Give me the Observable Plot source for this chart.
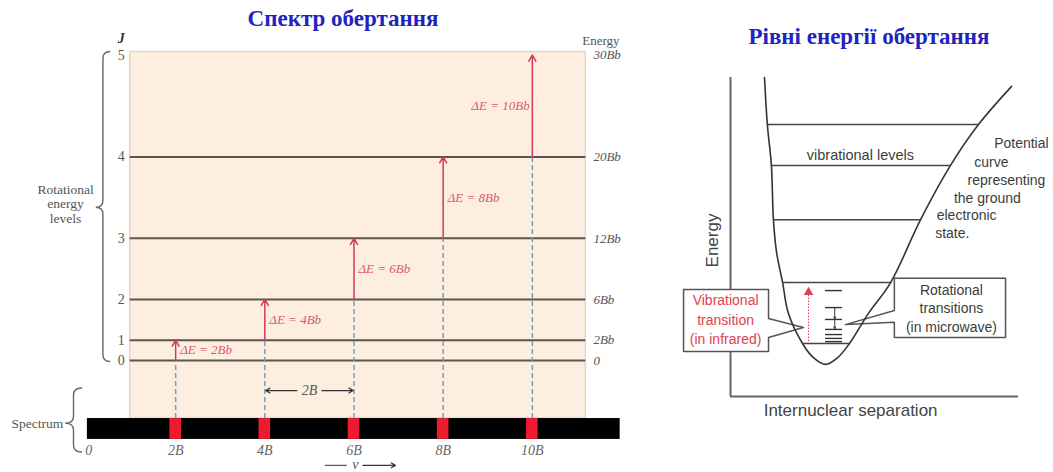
<!DOCTYPE html>
<html><head><meta charset="utf-8">
<script src="https://cdn.jsdelivr.net/npm/d3@7"></script>
<script src="https://cdn.jsdelivr.net/npm/@observablehq/plot@0.6"></script>
<style>
html,body{margin:0;padding:0;background:#fff;}
#wrap{position:relative;width:1053px;height:472px;overflow:hidden;background:#fff;}
.title{position:absolute;font-family:"Liberation Serif",serif;font-weight:bold;font-size:23px;color:#2222c0;white-space:nowrap;transform:translateX(-50%);line-height:26px;}
#wrap svg{position:absolute;top:0;}
</style></head><body>
<div id="wrap">
<div class="title" style="left:343px;top:6px">Спектр обертання</div>
<div class="title" style="left:869px;top:24px">Рівні енергії обертання</div>
</div>
<script>
// ---------- Left panel data: rotational levels and spectrum ----------
const J = [0, 1, 2, 3, 4, 5];
const levelEnergy = [0, 2, 6, 12, 20, 30];               // in units of Bb
const energyLabels = ["0", "2Bb", "6Bb", "12Bb", "20Bb", "30Bb"];
const lineFreq = [2, 4, 6, 8, 10];                         // in units of B
const deltaLabels = ["ΔE = 2Bb", "ΔE = 4Bb", "ΔE = 6Bb", "ΔE = 8Bb", "ΔE = 10Bb"];
const freqTicks = [0, 2, 4, 6, 8, 10];
const freqTickLabels = ["0", "2B", "4B", "6B", "8B", "10B"];

// ---------- Right panel data: potential curve ----------
const curveR = [1.18,1.28,1.42,1.49,1.60,1.81,2.01,2.50,2.88,3.30,3.72,4.13,4.79,5.56,6.60,7.64,8.61,9.76];
const curveE = [9.94,8.47,7.20,5.51,4.49,3.55,2.59,1.65,1.21,1.00,1.21,1.65,2.59,3.55,5.51,7.20,8.47,9.66];
const vibE  = [1.65, 3.55, 5.51, 7.20, 8.47];
const vibR1 = [2.50, 1.81, 1.49, 1.42, 1.28];
const vibR2 = [4.13, 5.56, 6.60, 7.64, 8.61];
const rotE  = [1.71, 1.81, 1.93, 2.09, 2.40, 2.77, 3.30];

// ---------- derived tables ----------
const levels = J.map((j, i) => ({J: j, E: levelEnergy[i], label: energyLabels[i]}));
const transitions = lineFreq.map((v, i) => ({v, lo: levelEnergy[i], hi: levelEnergy[i + 1], label: deltaLabels[i]}));
const ticks = freqTicks.map((v, i) => ({v, label: freqTickLabels[i]}));
const curve = curveR.map((r, i) => ({r, E: curveE[i]}));
const vib = vibE.map((E, i) => ({E, r1: vibR1[i], r2: vibR2[i]}));

// layout extents (data units)
const panel = {v1: 0.98, v2: 11.2, top: 30.3, bottom: -5.7};
const bar = {v1: 0.02, v2: 11.97, top: -5.7, bottom: -7.75};

const serif = "Liberation Serif, serif";
const sans = "Liberation Sans, Arial, sans-serif";

function braceMark(braces, color) {
  return (index, scales) => {
    const g = d3.create("svg:g").attr("fill", "none").attr("stroke", color).attr("stroke-width", 1.4);
    for (const b of braces) {
      const xt = scales.x(b.tip), xe = scales.x(b.end), xs = (xt + xe) / 2;
      const y0 = scales.y(b.top), y1 = scales.y(b.bottom), ym = scales.y(b.mid);
      const r = Math.min(7, Math.abs(xe - xt));
      g.append("path").attr("d",
        `M${xe},${y0} Q${xs},${y0} ${xs},${y0 + r} L${xs},${ym - r} Q${xs},${ym} ${xt},${ym} ` +
        `Q${xs},${ym} ${xs},${ym + r} L${xs},${y1 - r} Q${xs},${y1} ${xe},${y1}`);
    }
    return g.node();
  };
}

const left = Plot.plot({
  width: 660, height: 472,
  x: {domain: [0, 12], range: [86, 621], axis: null},
  y: {domain: [-11, 35.36], range: [472, 0], axis: null},
  style: {background: "transparent", overflow: "visible"},
  marks: [
    Plot.rect([panel], {x1: "v1", x2: "v2", y1: "bottom", y2: "top", fill: "#fdeee0", stroke: "#e6d6c4", strokeWidth: 1.5}),
    Plot.ruleY(levels.filter(d => d.J < 5), {y: "E", x1: panel.v1, x2: panel.v2, stroke: "#5a564e", strokeWidth: 2}),
    Plot.ruleX(transitions, {x: "v", y1: panel.bottom, y2: "lo", stroke: "#6aa2cc", strokeWidth: 1.5, strokeDasharray: "5,3"}),
    Plot.arrow(transitions, {x1: "v", x2: "v", y1: "lo", y2: "hi", stroke: "#d4385a", strokeWidth: 1.5, headLength: 7}),
    Plot.text(transitions.slice(0, 4), {x: d => d.v + 0.1, y: d => (d.lo + d.hi) / 2, text: "label", textAnchor: "start",
      fill: "#d85a74", fontFamily: serif, fontStyle: "italic", fontSize: 13}),
    Plot.text(transitions.slice(4), {x: d => d.v - 0.06, y: d => (d.lo + d.hi) / 2, text: "label", textAnchor: "end",
      fill: "#d85a74", fontFamily: serif, fontStyle: "italic", fontSize: 13}),
    // spectrum bar
    Plot.rect([bar], {x1: "v1", x2: "v2", y1: "bottom", y2: "top", fill: "#000"}),
    Plot.rect(transitions, {x1: d => d.v - 0.13, x2: d => d.v + 0.13, y1: bar.bottom, y2: bar.top, fill: "#ee1a30"}),
    Plot.text(ticks, {x: d => d.v === 0 ? 0.05 : d.v, y: -8.85, text: "label", fill: "#666", fontFamily: serif, fontStyle: "italic", fontSize: 14}),
    // J labels and energy labels
    Plot.text(levels, {x: 0.86, y: "E", text: d => String(d.J), textAnchor: "end", fill: "#555", fontFamily: serif, fontSize: 14}),
    Plot.text(["J"], {x: 0.78, y: 31.6, text: d => d, fill: "#333", fontFamily: serif, fontStyle: "italic", fontWeight: "bold", fontSize: 14}),
    Plot.text(levels, {x: 11.37, y: "E", text: "label", textAnchor: "start", fill: "#555", fontFamily: serif, fontStyle: "italic", fontSize: 13}),
    Plot.text(["Energy"], {x: 11.12, y: 31.4, text: d => d, textAnchor: "start", fill: "#555", fontFamily: serif, fontSize: 13}),
    // 2B spacing marker
    Plot.arrow([{a: 4.72, b: 4.02}, {a: 5.28, b: 5.98}], {x1: "a", x2: "b", y1: -2.95, y2: -2.95, stroke: "#333", strokeWidth: 1.2, headLength: 6}),
    Plot.text(["2B"], {x: 5, y: -2.95, text: d => d, fill: "#555", fontFamily: serif, fontStyle: "italic", fontSize: 14}),
    // nu axis marker
    Plot.ruleY([-10.3], {x1: 5.36, x2: 5.85, stroke: "#555", strokeWidth: 1.2}),
    Plot.arrow([{a: 6.2, b: 6.93}], {x1: "a", x2: "b", y1: -10.3, y2: -10.3, stroke: "#333", strokeWidth: 1.2, headLength: 6}),
    Plot.text(["ν"], {x: 6.03, y: -10.2, text: d => d, fill: "#555", fontFamily: serif, fontStyle: "italic", fontSize: 14}),
    // side labels and braces
    Plot.text(["Rotational\nenergy\nlevels"], {x: -0.47, y: 15.4, text: d => d, fill: "#555", fontFamily: serif, fontSize: 13.5, lineHeight: 1.1}),
    Plot.text(["Spectrum"], {x: -0.52, y: -6.2, text: d => d, textAnchor: "end", fill: "#555", fontFamily: serif, fontSize: 13.5}),
    braceMark([
      {tip: 0.22, end: 0.54, top: 30.3, bottom: -0.15, mid: 15.0},
      {tip: -0.47, end: -0.09, top: -2.75, bottom: -9.04, mid: -6.2}
    ], "#666")
  ]
});
left.style.left = "0px";

const vibBox = [[-1.63,3.33],[1.32,3.33],[1.32,2.43],[2.53,2.15],[1.32,1.84],[1.32,1.40],[-1.63,1.40],[-1.63,3.33]];
const rotBox = [[5.69,3.68],[9.55,3.68],[9.55,1.84],[5.69,1.84],[5.69,2.31],[3.99,2.24],[5.69,2.68],[5.69,3.68]];

const right = Plot.plot({
  width: 393, height: 472,
  x: {domain: [0, 10], range: [70, 358], axis: null},
  y: {domain: [0, 10], range: [396, 75], axis: null},
  style: {background: "transparent", overflow: "visible"},
  marks: [
    Plot.ruleX([0], {y1: 0, y2: 9.94, stroke: "#666", strokeWidth: 2}),
    Plot.ruleY([0], {x1: 0, x2: 10, stroke: "#666", strokeWidth: 2}),
    Plot.line(vibBox, {x: d => d[0], y: d => d[1], fill: "white", stroke: "#555", strokeWidth: 1.5, curve: "linear"}),
    Plot.line(rotBox, {x: d => d[0], y: d => d[1], fill: "white", stroke: "#555", strokeWidth: 1.5, curve: "linear"}),
    Plot.line(curve, {x: "r", y: "E", curve: "catmull-rom", stroke: "#333", strokeWidth: 1.6}),
    Plot.ruleY(vib, {y: "E", x1: "r1", x2: "r2", stroke: "#444", strokeWidth: 1.5}),
    Plot.ruleY(rotE, {y: d => d, x1: 3.30, x2: 3.89, stroke: "#333", strokeWidth: 1.4}),
    Plot.arrow([{a: 2.77, b: 2.42}, {a: 2.40, b: 2.11}], {x1: 3.62, x2: 3.62, y1: "a", y2: "b", stroke: "#333", strokeWidth: 1, headLength: 3}),
    Plot.ruleX([2.71], {y1: 1.71, y2: 3.2, stroke: "#e0404f", strokeWidth: 1, strokeDasharray: "1.5,1.5"}),
    Plot.dot([2.71], {x: d => d, y: 3.25, symbol: "triangle", r: 3.5, fill: "#e0404f", stroke: "none"}),
    // texts
    Plot.text(["Energy"], {x: -0.63, y: 4.86, text: d => d, rotate: -90, fill: "#444", fontFamily: sans, fontSize: 17}),
    Plot.text(["Internuclear separation"], {x: 4.17, y: -0.44, text: d => d, fill: "#444", fontFamily: sans, fontSize: 17}),
    Plot.text(["vibrational levels"], {x: 4.51, y: 7.51, text: d => d, fill: "#3c3c3c", fontFamily: sans, fontSize: 14.5}),
    Plot.text([
      {t: "Potential", r: 10.1, E: 7.88},
      {t: "curve", r: 9.06, E: 7.29},
      {t: "representing", r: 9.58, E: 6.73},
      {t: "the ground", r: 8.92, E: 6.17},
      {t: "electronic", r: 8.2, E: 5.64},
      {t: "state.", r: 7.7, E: 5.08}
    ], {x: "r", y: "E", text: "t", fill: "#3c3c3c", fontFamily: sans, fontSize: 14}),
    Plot.text(["Vibrational\ntransition\n(in infrared)"], {x: -0.17, y: 2.43, text: d => d, fill: "#e0404f", fontFamily: sans, fontSize: 14, lineHeight: 1.4}),
    Plot.text(["Rotational\ntransitions\n(in microwave)"], {x: 7.67, y: 2.77, text: d => d, fill: "#3c3c3c", fontFamily: sans, fontSize: 14, lineHeight: 1.3})
  ]
});
right.style.left = "660px";

document.getElementById("wrap").append(left, right);
</script>
</body></html>
